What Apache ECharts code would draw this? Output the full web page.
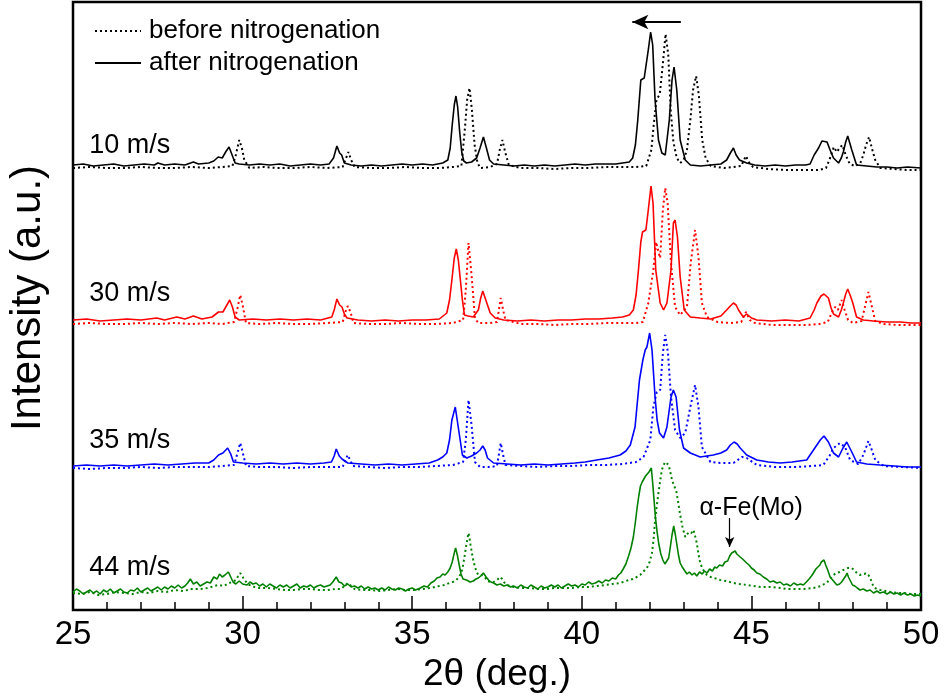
<!DOCTYPE html>
<html lang="en">
<head>
    <meta charset="UTF-8">
    <title>XRD before / after nitrogenation</title>
    <style>
        html, body { margin: 0; padding: 0; background: #fff; }
    </style>
</head>
<body>
<div id="main" style="width: 948px;height:700px;"></div>

<script src="https://cdn.jsdelivr.net/npm/echarts@6/dist/echarts.min.js"></script>
<script>
    // [2theta, intensity (a.u.)], already stacked by offset
    var black_after = [[25.0,445],[25.3,446],[25.6,444],[25.9,445],[26.2,446],[26.5,444],[26.8,445],[27.1,446],[27.4,445],[27.5,447],[27.7,445],[28.0,446],[28.3,445],[28.55,448],[28.7,446],[29.0,447],[29.15,449],[29.28,453],[29.4,452],[29.5,458],[29.6,463],[29.68,456],[29.78,447],[29.9,446],[30.2,445],[30.5,446],[30.8,445],[31.1,446],[31.4,444],[31.7,445],[32.0,446],[32.3,445],[32.55,446],[32.68,452],[32.78,464],[32.86,457],[32.92,455],[33.0,447],[33.2,445],[33.5,444],[33.8,445],[34.1,444],[34.4,445],[34.7,446],[35.0,445],[35.3,446],[35.6,445],[35.9,447],[36.05,450],[36.12,462],[36.18,485],[36.24,505],[36.29,514],[36.34,503],[36.4,478],[36.46,458],[36.52,449],[36.6,447],[36.75,448],[36.9,452],[37.0,462],[37.1,473],[37.18,463],[37.28,450],[37.4,446],[37.7,445],[38.0,444],[38.3,445],[38.6,444],[38.9,445],[39.2,444],[39.5,445],[39.8,446],[40.1,445],[40.4,446],[40.7,446],[41.0,446],[41.2,447],[41.4,448],[41.5,452],[41.58,465],[41.65,490],[41.74,530],[41.84,532],[41.96,560],[42.03,578],[42.09,565],[42.16,510],[42.26,470],[42.36,457],[42.46,455],[42.58,490],[42.66,530],[42.72,543],[42.8,520],[42.9,470],[43.05,450],[43.2,445],[43.5,444],[43.8,445],[44.1,446],[44.27,450],[44.38,457],[44.47,462],[44.55,455],[44.65,450],[44.86,447],[45.1,445],[45.4,444],[45.7,445],[46.0,444],[46.3,445],[46.6,445],[46.73,446],[46.85,455],[46.98,462],[47.08,469],[47.13,471],[47.23,468],[47.32,460],[47.42,452],[47.57,447],[47.65,452],[47.71,458],[47.78,468],[47.84,474],[47.9,467],[47.96,460],[48.1,445],[48.4,444],[48.7,443],[49.0,443],[49.3,442],[49.6,443],[50.0,442]];
    var black_before = [[25.0,442],[25.5,443],[26.0,442],[26.5,442],[27.0,443],[27.5,442],[28.0,442],[28.5,443],[29.0,442],[29.4,443],[29.7,444],[29.8,455],[29.9,470],[29.98,462],[30.05,450],[30.2,442],[30.6,443],[31.0,442],[31.5,442],[32.0,443],[32.5,442],[32.95,443],[33.05,452],[33.12,458],[33.2,450],[33.3,443],[33.8,442],[34.3,442],[34.8,443],[35.3,442],[35.8,442],[36.2,443],[36.45,444],[36.55,480],[36.62,510],[36.69,522],[36.76,500],[36.84,465],[36.92,448],[37.0,442],[37.3,443],[37.5,446],[37.58,460],[37.66,470],[37.74,458],[37.85,445],[38.2,442],[38.7,442],[39.2,441],[39.7,442],[40.2,442],[40.7,443],[41.2,443],[41.6,443],[41.9,444],[42.05,460],[42.12,485],[42.2,510],[42.3,516],[42.4,550],[42.47,576],[42.55,555],[42.62,500],[42.7,468],[42.8,452],[42.9,447],[43.0,450],[43.1,460],[43.2,490],[43.28,520],[43.37,534],[43.45,515],[43.55,470],[43.65,452],[43.8,444],[44.2,442],[44.7,444],[44.78,450],[44.84,454],[44.92,448],[45.05,443],[45.5,441],[46.0,440],[46.5,440],[47.0,440],[47.2,442],[47.32,452],[47.43,463],[47.52,458],[47.6,462],[47.68,465],[47.78,455],[47.9,446],[48.05,444],[48.2,446],[48.3,455],[48.38,465],[48.47,473],[48.55,462],[48.65,450],[48.8,442],[49.2,441],[49.6,440],[50.0,440]];

    var red_after = [[25.0,290],[25.4,291],[25.8,289],[26.2,290],[26.6,291],[27.0,290],[27.47,292],[27.7,290],[28.06,293],[28.3,291],[28.55,294],[28.8,291],[29.1,293],[29.29,298],[29.42,298],[29.52,304],[29.62,310],[29.7,303],[29.78,293],[29.9,290],[30.3,291],[30.7,290],[31.1,291],[31.5,290],[31.9,291],[32.3,290],[32.63,293],[32.7,300],[32.78,311],[32.86,305],[32.93,303],[33.0,296],[33.08,292],[33.4,290],[33.8,289],[34.2,290],[34.6,289],[35.0,290],[35.4,290],[35.8,291],[36.02,297],[36.1,310],[36.17,330],[36.24,352],[36.3,361],[36.36,350],[36.42,330],[36.48,310],[36.54,295],[36.65,294],[36.8,293],[36.95,300],[37.02,312],[37.08,319],[37.15,312],[37.3,297],[37.45,292],[37.7,290],[38.1,289],[38.5,290],[38.9,289],[39.3,290],[39.7,290],[40.1,291],[40.5,291],[40.9,292],[41.2,293],[41.4,295],[41.52,300],[41.6,315],[41.67,340],[41.74,368],[41.79,378],[41.89,380],[41.96,400],[42.04,424],[42.1,407],[42.18,340],[42.31,307],[42.41,300],[42.51,307],[42.63,340],[42.7,387],[42.75,390],[42.82,373],[42.9,333],[43.02,300],[43.2,293],[43.49,292],[43.8,291],[44.1,294],[44.27,300],[44.38,304],[44.47,307],[44.55,305],[44.62,300],[44.76,293],[44.86,296],[45.0,292],[45.16,290],[45.6,289],[46.0,290],[46.4,289],[46.73,292],[46.85,300],[46.93,307],[47.05,314],[47.14,316],[47.27,312],[47.35,302],[47.42,296],[47.57,293],[47.65,300],[47.71,307],[47.78,316],[47.84,321],[47.92,314],[47.99,307],[48.1,293],[48.3,290],[48.6,289],[49.0,288],[49.4,288],[49.7,287],[50.0,287]];
    var red_before = [[25.0,286],[25.5,287],[26.0,286],[26.5,286],[27.0,287],[27.5,286],[28.0,287],[28.5,286],[29.0,287],[29.4,286],[29.75,288],[29.85,302],[29.93,315],[30.0,305],[30.1,287],[30.5,286],[31.0,287],[31.5,286],[32.0,286],[32.5,287],[32.95,288],[33.03,298],[33.1,304],[33.18,298],[33.27,287],[33.7,286],[34.2,286],[34.7,287],[35.2,286],[35.7,286],[36.2,287],[36.5,290],[36.58,320],[36.66,367],[36.75,335],[36.85,292],[36.95,287],[37.3,287],[37.5,288],[37.61,312],[37.68,300],[37.75,290],[38.2,286],[38.7,286],[39.2,285],[39.7,286],[40.2,286],[40.7,287],[41.2,287],[41.6,287],[41.8,288],[41.96,307],[42.11,340],[42.19,368],[42.26,358],[42.31,352],[42.39,400],[42.46,422],[42.53,407],[42.63,347],[42.75,303],[42.9,295],[43.1,303],[43.21,347],[43.34,380],[43.44,353],[43.54,307],[43.69,293],[44.0,288],[44.4,287],[44.7,288],[44.84,298],[44.95,290],[45.1,287],[45.6,285],[46.1,285],[46.6,285],[47.0,286],[47.25,288],[47.38,298],[47.47,303],[47.55,300],[47.66,310],[47.75,300],[47.85,290],[48.0,287],[48.25,289],[48.36,305],[48.45,318],[48.54,305],[48.65,289],[48.9,286],[49.3,285],[49.7,285],[50.0,285]];

    var blue_after = [[25.0,144],[25.4,145],[25.8,144],[26.2,145],[26.6,144],[27.0,145],[27.4,146],[27.8,145],[28.2,146],[28.6,147],[29.0,147],[29.15,150],[29.29,155],[29.42,157],[29.56,162],[29.65,156],[29.73,148],[30.0,147],[30.4,146],[30.8,147],[31.2,146],[31.6,147],[32.0,146],[32.4,147],[32.62,148],[32.7,154],[32.76,161],[32.85,154],[32.93,151],[33.1,147],[33.5,146],[33.9,145],[34.3,146],[34.7,145],[35.1,146],[35.5,147],[35.75,150],[35.9,153],[36.02,157],[36.1,170],[36.17,190],[36.27,203],[36.37,180],[36.48,155],[36.61,152],[36.75,154],[36.9,157],[37.0,160],[37.08,164],[37.15,160],[37.22,152],[37.4,147],[37.8,146],[38.2,145],[38.6,146],[39.0,145],[39.4,146],[39.8,147],[40.1,148],[40.44,150],[40.8,152],[41.13,155],[41.3,159],[41.43,165],[41.57,183],[41.63,205],[41.7,230],[41.8,250],[41.87,260],[41.92,263],[42.0,277],[42.07,260],[42.16,213],[42.22,190],[42.29,177],[42.41,172],[42.51,183],[42.63,213],[42.7,220],[42.78,213],[42.88,180],[43.0,162],[43.2,157],[43.49,153],[43.88,155],[44.1,157],[44.27,160],[44.38,165],[44.49,168],[44.58,166],[44.67,162],[44.86,155],[45.16,150],[45.5,148],[45.85,147],[46.2,148],[46.63,150],[46.83,160],[46.93,165],[47.03,170],[47.14,174],[47.27,168],[47.42,157],[47.57,153],[47.7,162],[47.81,168],[47.96,158],[48.1,148],[48.4,146],[48.79,145],[49.2,144],[49.6,143],[50.0,143]];
    var blue_before = [[25.0,142],[25.5,141],[26.0,142],[26.5,142],[27.0,143],[27.5,142],[28.0,143],[28.5,143],[29.0,143],[29.4,144],[29.75,145],[29.85,157],[29.93,167],[30.0,158],[30.1,144],[30.5,143],[31.0,143],[31.5,142],[32.0,143],[32.5,143],[32.95,143],[33.03,150],[33.1,155],[33.17,150],[33.25,144],[33.7,143],[34.2,142],[34.7,143],[35.2,143],[35.7,144],[36.2,145],[36.5,148],[36.58,170],[36.66,210],[36.75,185],[36.85,148],[37.0,143],[37.3,143],[37.5,144],[37.61,167],[37.68,155],[37.75,145],[38.2,144],[38.7,143],[39.2,144],[39.7,144],[40.2,145],[40.7,145],[41.2,146],[41.6,148],[41.82,153],[42.02,170],[42.11,203],[42.21,218],[42.31,220],[42.39,257],[42.46,275],[42.54,257],[42.63,213],[42.75,180],[42.9,172],[43.05,177],[43.2,203],[43.34,225],[43.44,203],[43.54,163],[43.79,148],[44.1,147],[44.47,147],[44.72,153],[44.86,152],[45.16,145],[45.7,143],[46.34,143],[46.8,144],[47.12,145],[47.3,154],[47.42,162],[47.61,167],[47.76,163],[47.91,150],[48.15,146],[48.3,155],[48.45,169],[48.55,160],[48.65,150],[48.9,144],[49.4,143],[50.0,142]];

    var green_after = [[25.0,18],[25.1,21],[25.2,19],[25.3,16],[25.4,18],[25.5,20],[25.6,17],[25.7,19],[25.8,16],[25.9,20],[26.0,18],[26.1,21],[26.2,17],[26.3,19],[26.4,21],[26.5,18],[26.6,17],[26.7,20],[26.8,19],[26.9,22],[27.0,18],[27.1,20],[27.2,22],[27.3,19],[27.4,21],[27.5,23],[27.6,20],[27.7,23],[27.8,21],[27.9,24],[28.0,22],[28.1,25],[28.2,22],[28.3,24],[28.38,27],[28.46,31],[28.55,26],[28.65,28],[28.75,24],[28.85,26],[28.95,28],[29.05,27],[29.15,33],[29.25,31],[29.32,36],[29.4,33],[29.48,35],[29.58,38],[29.65,33],[29.72,28],[29.8,26],[29.9,29],[30.0,26],[30.13,25],[30.22,28],[30.3,26],[30.4,27],[30.5,24],[30.6,26],[30.7,23],[30.8,26],[30.9,24],[31.0,22],[31.1,25],[31.2,23],[31.3,25],[31.4,22],[31.5,24],[31.6,26],[31.7,22],[31.8,24],[31.9,23],[32.0,25],[32.1,22],[32.2,24],[32.3,25],[32.4,23],[32.49,24],[32.58,25],[32.66,28],[32.76,33],[32.84,28],[32.92,27],[33.0,24],[33.1,26],[33.2,23],[33.3,24],[33.4,22],[33.5,24],[33.6,21],[33.7,23],[33.8,21],[33.9,22],[34.0,20],[34.1,22],[34.2,20],[34.3,23],[34.4,21],[34.5,20],[34.6,22],[34.7,21],[34.8,19],[34.9,21],[35.0,22],[35.1,20],[35.24,22],[35.35,24],[35.45,23],[35.55,27],[35.65,29],[35.73,32],[35.82,33],[35.9,36],[35.97,35],[36.05,38],[36.12,42],[36.18,48],[36.24,57],[36.28,62],[36.33,55],[36.38,46],[36.44,36],[36.5,31],[36.6,30],[36.71,28],[36.8,29],[36.88,31],[36.95,32],[37.02,34],[37.1,37],[37.18,33],[37.25,30],[37.32,28],[37.4,27],[37.5,25],[37.6,26],[37.7,24],[37.8,25],[37.9,23],[37.99,24],[38.1,22],[38.2,25],[38.3,23],[38.4,22],[38.5,25],[38.6,23],[38.7,21],[38.8,24],[38.9,22],[39.0,23],[39.1,25],[39.2,23],[39.3,25],[39.4,22],[39.5,24],[39.6,26],[39.7,24],[39.8,25],[39.9,23],[40.0,26],[40.1,25],[40.2,28],[40.3,26],[40.4,27],[40.5,29],[40.6,27],[40.7,30],[40.8,29],[40.9,32],[41.0,31],[41.08,35],[41.15,37],[41.22,41],[41.3,46],[41.38,54],[41.45,62],[41.52,73],[41.58,88],[41.63,102],[41.68,114],[41.73,124],[41.78,128],[41.83,130],[41.88,134],[41.93,133],[41.98,138],[42.02,137],[42.05,142],[42.09,127],[42.13,110],[42.17,93],[42.22,78],[42.27,66],[42.33,56],[42.39,50],[42.45,46],[42.5,45],[42.56,52],[42.61,63],[42.66,75],[42.71,84],[42.76,75],[42.8,66],[42.85,55],[42.9,47],[42.96,43],[43.02,40],[43.1,36],[43.17,38],[43.25,35],[43.32,37],[43.39,34],[43.47,38],[43.55,36],[43.62,39],[43.69,37],[43.77,41],[43.85,39],[43.92,43],[43.98,42],[44.06,45],[44.15,44],[44.22,48],[44.3,49],[44.36,54],[44.42,57],[44.47,55],[44.52,59],[44.57,56],[44.62,55],[44.67,53],[44.74,51],[44.8,49],[44.86,47],[44.93,45],[45.0,42],[45.08,40],[45.16,37],[45.25,36],[45.35,33],[45.45,31],[45.55,28],[45.65,29],[45.75,27],[45.85,28],[45.95,25],[46.04,26],[46.15,24],[46.25,27],[46.35,25],[46.45,26],[46.53,25],[46.62,28],[46.7,31],[46.77,34],[46.83,37],[46.9,41],[46.96,43],[47.02,45],[47.06,48],[47.1,46],[47.14,50],[47.19,45],[47.25,40],[47.32,33],[47.42,29],[47.52,25],[47.6,26],[47.66,28],[47.72,31],[47.78,34],[47.82,37],[47.86,33],[47.92,29],[47.98,25],[48.05,24],[48.12,22],[48.2,20],[48.3,21],[48.4,19],[48.5,20],[48.6,17],[48.7,19],[48.79,17],[48.9,18],[49.0,16],[49.1,18],[49.2,16],[49.3,17],[49.4,15],[49.5,17],[49.6,15],[49.7,16],[49.8,14],[49.9,15],[50.0,14]];
    var green_before = [[25.0,17],[25.25,16],[25.5,18],[25.75,15],[26.0,16],[26.25,18],[26.5,17],[26.75,16],[27.0,18],[27.25,17],[27.5,19],[27.75,18],[28.0,20],[28.25,19],[28.5,21],[28.75,21],[29.0,22],[29.15,24],[29.3,25],[29.45,24],[29.6,27],[29.7,28],[29.8,30],[29.87,34],[29.93,37],[29.99,34],[30.05,30],[30.2,25],[30.35,23],[30.5,22],[30.75,22],[31.0,21],[31.25,20],[31.5,20],[31.75,21],[32.0,21],[32.25,20],[32.5,20],[32.75,21],[32.9,21],[33.0,24],[33.1,27],[33.2,24],[33.3,21],[33.55,20],[33.8,20],[34.05,19],[34.3,20],[34.55,21],[34.8,20],[35.05,20],[35.3,21],[35.55,22],[35.8,24],[35.95,25],[36.1,27],[36.2,28],[36.3,30],[36.38,33],[36.45,37],[36.5,45],[36.55,55],[36.6,66],[36.63,72],[36.66,77],[36.69,72],[36.72,65],[36.76,57],[36.8,50],[36.85,43],[36.9,38],[36.95,35],[37.0,34],[37.05,35],[37.1,36],[37.16,32],[37.22,29],[37.3,28],[37.4,28],[37.5,30],[37.59,33],[37.65,31],[37.7,28],[37.79,25],[38.0,23],[38.2,22],[38.45,22],[38.7,21],[38.95,21],[39.2,22],[39.45,22],[39.7,22],[39.95,23],[40.2,23],[40.45,24],[40.7,25],[40.9,26],[41.13,27],[41.3,29],[41.4,30],[41.5,31],[41.62,33],[41.72,35],[41.8,38],[41.86,40],[41.92,42],[42.0,48],[42.07,57],[42.12,72],[42.16,90],[42.21,104],[42.26,117],[42.31,129],[42.36,140],[42.41,145],[42.46,148],[42.51,146],[42.56,145],[42.61,138],[42.66,130],[42.72,124],[42.78,120],[42.84,108],[42.9,95],[42.97,83],[43.05,73],[43.11,76],[43.17,78],[43.23,77],[43.29,80],[43.34,74],[43.39,67],[43.44,56],[43.49,47],[43.55,42],[43.6,39],[43.69,35],[43.8,33],[43.9,32],[44.0,31],[44.08,30],[44.25,29],[44.47,27],[44.65,26],[44.86,25],[45.05,24],[45.3,23],[45.55,23],[45.85,22],[46.05,21],[46.3,21],[46.55,21],[46.83,22],[46.95,23],[47.05,24],[47.15,26],[47.22,27],[47.32,31],[47.42,35],[47.5,37],[47.6,38],[47.71,40],[47.78,41],[47.85,42],[47.9,43],[47.96,42],[48.02,40],[48.08,38],[48.14,36],[48.2,35],[48.27,36],[48.33,36],[48.39,37],[48.45,35],[48.5,32],[48.55,28],[48.6,23],[48.7,21],[48.8,20],[48.95,19],[49.09,18],[49.3,17],[49.5,17],[49.7,16],[49.87,16],[50.0,16]];

    var colors = ['#000000', '#ff0000', '#0000ff', '#008000'];
    var speeds = ['10 m/s', '30 m/s', '35 m/s', '44 m/s'];
    var speedLabelY = [464, 316, 169, 42];   // where the speed text sits, in a.u.
    var xTicks = [25, 30, 35, 40, 45, 50];

    var afterSets = [black_after, red_after, blue_after, green_after];
    var beforeSets = [black_before, red_before, blue_before, green_before];

    var font = 'Liberation Sans, Arial, Helvetica, sans-serif';
    var myChart = echarts.init(document.getElementById('main'));

    var series = [];
    for (var i = 0; i < 4; i++) {
        series.push({
            name: i == 0 ? 'before nitrogenation' : 'before ' + speeds[i],
            type: 'line',
            data: beforeSets[i],
            showSymbol: false,
            symbol: 'none',
            lineStyle: { color: colors[i], width: 2, type: [2, 3] },
            itemStyle: { color: colors[i] },
            z: 2
        });
    }
    for (var i = 0; i < 4; i++) {
        var s = {
            name: i == 0 ? 'after nitrogenation' : 'after ' + speeds[i],
            type: 'line',
            data: afterSets[i],
            showSymbol: false,
            symbol: 'none',
            lineStyle: { color: colors[i], width: 1.6 },
            itemStyle: { color: colors[i] },
            z: 3
        };
        if (i == 0) {
            // peak shift arrow
            s.markLine = {
                silent: true, animation: false,
                symbol: ['none', 'arrow'], symbolSize: [11, 16],
                label: { show: false },
                lineStyle: { color: '#000', width: 2, type: 'solid' },
                data: [[{ coord: [42.92, 588] }, { coord: [41.49, 588] }]]
            };
        }
        if (i == 3) {
            s.markLine = {
                silent: true, animation: false,
                symbol: ['none', 'arrow'], symbolSize: [7, 10],
                label: { show: false },
                lineStyle: { color: '#000', width: 1.2, type: 'solid' },
                data: [[{ coord: [44.36, 92] }, { coord: [44.36, 63] }]]
            };
        }
        series.push(s);
    }

    var option = {
        animation: false,
        backgroundColor: '#fff',
        textStyle: { fontFamily: font, color: '#000' },
        grid: { left: 73, right: 27, top: 2, bottom: 90, show: true, borderColor: '#000', borderWidth: 2.5, backgroundColor: 'transparent' },
        legend: {
            data: ['before nitrogenation', 'after nitrogenation'],
            orient: 'vertical',
            left: 89, top: 13,
            itemWidth: 46, itemHeight: 10, itemGap: 6,
            itemStyle: { opacity: 0 },
            textStyle: { fontSize: 26, color: '#000', fontFamily: font, padding: [0, 0, 0, 3] },
            selectedMode: false
        },
        xAxis: {
            type: 'value',
            min: 25, max: 50, interval: 5,
            name: '2θ (deg.)',
            nameLocation: 'middle',
            nameGap: 42,
            nameTextStyle: { fontSize: 37, color: '#000', fontFamily: font },
            axisLine: { lineStyle: { color: '#000', width: 2 } },
            axisTick: { inside: true, length: 14, lineStyle: { color: '#000', width: 1.5 } },
            minorTick: { show: true, splitNumber: 5, length: 8, lineStyle: { color: '#000', width: 1.5 } },
            axisLabel: {
                fontSize: 33, color: '#000', margin: 8, fontFamily: font,
                formatter: function (v) { return xTicks.indexOf(v) >= 0 ? String(v) : ''; }
            },
            splitLine: { show: false }
        },
        yAxis: {
            type: 'value',
            min: 0, max: 608,
            axisLine: { show: true, lineStyle: { color: '#000', width: 2 } },
            axisTick: { show: false },
            axisLabel: { show: false },
            splitLine: { show: false }
        },
        series: series
    };

    myChart.setOption(option);

    // texts placed from data coordinates
    var graphics = [];
    for (var i = 0; i < 4; i++) {
        var p = myChart.convertToPixel({ gridIndex: 0 }, [25.48, speedLabelY[i]]);
        graphics.push({
            type: 'text', left: p[0], top: p[1] - 14,
            style: { text: speeds[i], fontSize: 27, fill: '#000', fontFamily: font }
        });
    }
    var pa = myChart.convertToPixel({ gridIndex: 0 }, [44.99, 102]);
    graphics.push({
        type: 'text', x: pa[0], y: pa[1],
        style: { text: 'α-Fe(Mo)', fontSize: 25, fill: '#000', fontFamily: font, align: 'center', verticalAlign: 'middle' }
    });
    var py = myChart.convertToPixel({ gridIndex: 0 }, [25, 312]);
    graphics.push({
        type: 'text', x: 28, y: py[1], rotation: Math.PI / 2,
        style: { text: 'Intensity (a.u.)', fontSize: 42, fill: '#000', fontFamily: font, align: 'center', verticalAlign: 'middle' }
    });
    myChart.setOption({ graphic: graphics });
</script>
</body>
</html>
